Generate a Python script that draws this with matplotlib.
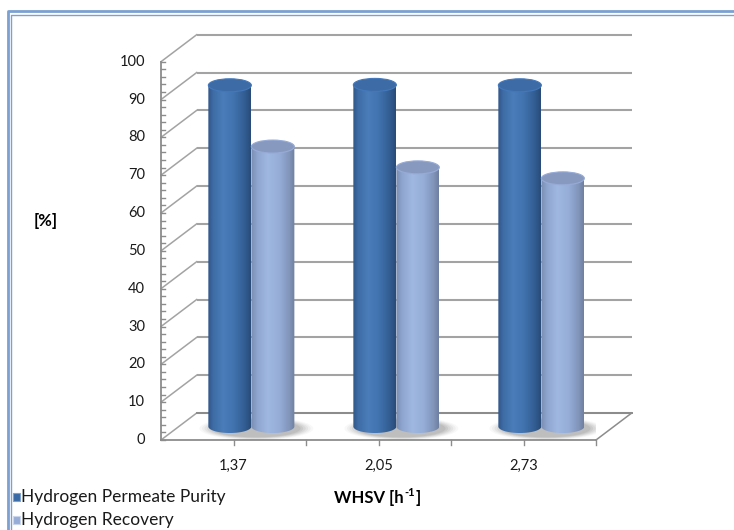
import numpy as np
import matplotlib
matplotlib.use("Agg")
import matplotlib.pyplot as plt
from matplotlib.patches import Ellipse, Polygon, Rectangle
from matplotlib.colors import LinearSegmentedColormap, to_rgb, to_hex

# ---- data ----
categories = ["1,37", "2,05", "2,73"]
series_names = ["Hydrogen Permeate Purity", "Hydrogen Recovery"]
purity = [90.2, 90.3, 90.2]
recovery = [74.0, 68.5, 65.6]
y_ticks = [0, 10, 20, 30, 40, 50, 60, 70, 80, 90, 100]
x_title_parts = ("WHSV [h", "-1", "]")
y_title = "[%]"

plt.rcParams["font.family"] = ["Lato", "DejaVu Sans"]

W, H = 734, 530
fig = plt.figure(figsize=(W / 100, H / 100), dpi=100)
fig.patch.set_facecolor("white")

# front plane of the 3D box
left_px, right_px, bot_px, top_px = 161, 596, 440, 61.7
ax = fig.add_axes([left_px / W, (H - bot_px) / H,
                   (right_px - left_px) / W, (bot_px - top_px) / H])
ax.set_xlim(0, 3)
ax.set_ylim(0, 100)
ax.axis("off")

px_x = (right_px - left_px) / 3.0          # pixels per category
px_y = (bot_px - top_px) / 100.0           # pixels per unit
DX = 35.7 / px_x                           # depth offset (data units)
DY = 27.0 / px_y

grid_c = "#A3A3A3"
edge_c = "#8C8C8C"

# back wall gridlines and left wall diagonals
for v in y_ticks:
    ax.plot([DX, 3 + DX], [v + DY, v + DY], color=grid_c, lw=1.5,
            clip_on=False, zorder=1, solid_capstyle="butt")
    ax.plot([0, DX], [v, v + DY], color=grid_c, lw=1.1,
            clip_on=False, zorder=1)

# floor
ax.plot([0, 3], [0, 0], color=edge_c, lw=1.3, clip_on=False, zorder=2)
ax.plot([3, 3 + DX], [0, DY], color=edge_c, lw=1.1, clip_on=False, zorder=2)
ax.plot([DX, 3 + DX], [DY, DY], color=edge_c, lw=1.4, clip_on=False, zorder=1)

# value axis with inward ticks
ax.plot([0, 0], [0, 100], color=edge_c, lw=1.3, clip_on=False, zorder=2)
tick_len = 4.0 / px_x
for v in np.arange(0, 101, 2):
    ax.plot([0, tick_len], [v, v], color=edge_c, lw=1.0, clip_on=False, zorder=2)
for v in y_ticks:
    ax.text(-16.0 / px_x, v, str(v), ha="right", va="center", fontsize=10.5,
            color="#1a1a1a")

# category axis ticks
for t in np.arange(0.5, 3.01, 0.5):
    ax.plot([t, t], [0, -5.0 / px_y], color=edge_c, lw=1.0, clip_on=False, zorder=2)
for i, c in enumerate(categories):
    ax.text(i + 0.5, -26.0 / px_y, c, ha="center", va="center", fontsize=10.5,
            color="#1a1a1a")

# axis titles
fig.text(46 / W, 1 - 221 / H, y_title, ha="center", va="center",
         fontsize=12, fontweight="bold")

fig.canvas.draw()
renderer = fig.canvas.get_renderer()
t1 = fig.text(0, 1 - 498 / H, x_title_parts[0], ha="left", va="center",
              fontsize=12, fontweight="bold")
t2 = fig.text(0, 1 - 493 / H, x_title_parts[1], ha="left", va="center",
              fontsize=8, fontweight="bold")
t3 = fig.text(0, 1 - 498 / H, x_title_parts[2], ha="left", va="center",
              fontsize=12, fontweight="bold")
w1 = t1.get_window_extent(renderer).width
w2 = t2.get_window_extent(renderer).width
w3 = t3.get_window_extent(renderer).width
x_start = 377 - (w1 + w2 + w3) / 2
t1.set_x(x_start / W)
t2.set_x((x_start + w1 + 0.5) / W)
t3.set_x((x_start + w1 + w2 + 1) / W)

# cylinder shading
dark_cmap = LinearSegmentedColormap.from_list("dark", [
    (0.0, "#2F5687"), (0.12, "#3E6CA5"), (0.35, "#4A7DBA"),
    (0.6, "#4173AF"), (0.85, "#335E93"), (1.0, "#294B77")])
light_cmap = LinearSegmentedColormap.from_list("light", [
    (0.0, "#7A8DB1"), (0.15, "#8FA6D0"), (0.38, "#9FB8E1"),
    (0.65, "#95ADD7"), (0.88, "#8194B9"), (1.0, "#6E7F9F")])
dark_top = "#3D6BA6"
light_top = "#8799BF"

R = 21.5 / px_x          # cylinder radius (x units)
RY = 6.5 / px_y          # ellipse half-height (value units)
grad = np.linspace(0, 1, 256).reshape(1, -1)


def cylinder(xc, base, value, cmap, top_col, z):
    x0, x1 = xc - R, xc + R
    th = np.linspace(0, np.pi, 60)
    arc_x = xc + R * np.cos(th)
    arc_y = base - RY * np.sin(th)
    verts = [(x0, base + value), (x1, base + value)]
    verts += list(zip(arc_x, arc_y))
    verts.append((x0, base + value))
    body = Polygon(verts, closed=True, facecolor="none", edgecolor="none",
                   transform=ax.transData)
    ax.add_patch(body)
    im = ax.imshow(grad, cmap=cmap, aspect="auto",
                   extent=[x0, x1, base - RY, base + value],
                   zorder=z, interpolation="bilinear")
    im.set_clip_path(body)
    rim = to_hex(np.clip(np.array(to_rgb(top_col)) * 1.12, 0, 1))
    ax.add_patch(Ellipse((xc, base + value), 2 * R, 2 * RY, facecolor=top_col,
                         edgecolor=rim, lw=0.8, zorder=z + 0.1))


base = DY / 2
for i in range(len(categories)):
    cx = i + 0.5 + DX / 2
    # soft floor shadow
    for k, a in enumerate(np.linspace(0.05, 0.16, 6)):
        s = 1.35 - k * 0.06
        ax.add_patch(Ellipse((cx + 5 / px_x, base - 2.0 / px_y), 4 * R * s * 0.98,
                             2 * RY * s * 1.3, facecolor="#7f7f7f", edgecolor="none",
                             alpha=a, zorder=3))
    cylinder(cx - R, base, purity[i], dark_cmap, dark_top, 5)
    cylinder(cx + R, base, recovery[i], light_cmap, light_top, 6)

ax.set_xlim(0, 3)
ax.set_ylim(0, 100)

# outer frame (double blue rule)
for off, lw in [(7.5, 2.0), (11, 1.0)]:
    fig.lines.append(plt.Line2D([off / W, off / W, 1.0],
                                [0.0, 1 - (off + 3.5) / H, 1 - (off + 3.5) / H],
                                transform=fig.transFigure, color="#7CA0D2", lw=lw))

# legend
for j, (name, col, ec) in enumerate(zip(series_names, ["#3A6AA6", "#97ADD7"],
                                         ["#7FA0CC", "#C9D5EC"])):
    yc = 497 + 23 * j
    sq = Rectangle((12.5 / W, 1 - (yc + 4) / H), 7.5 / W, 8 / H,
                   transform=fig.transFigure, facecolor=col,
                   edgecolor=ec, lw=0.8, zorder=5)
    fig.patches.append(sq)
    fig.text(21 / W, 1 - yc / H, name, ha="left", va="center", fontsize=12.5,
             color="#1a1a1a")

fig.savefig("out.png", dpi=100, facecolor="white")
